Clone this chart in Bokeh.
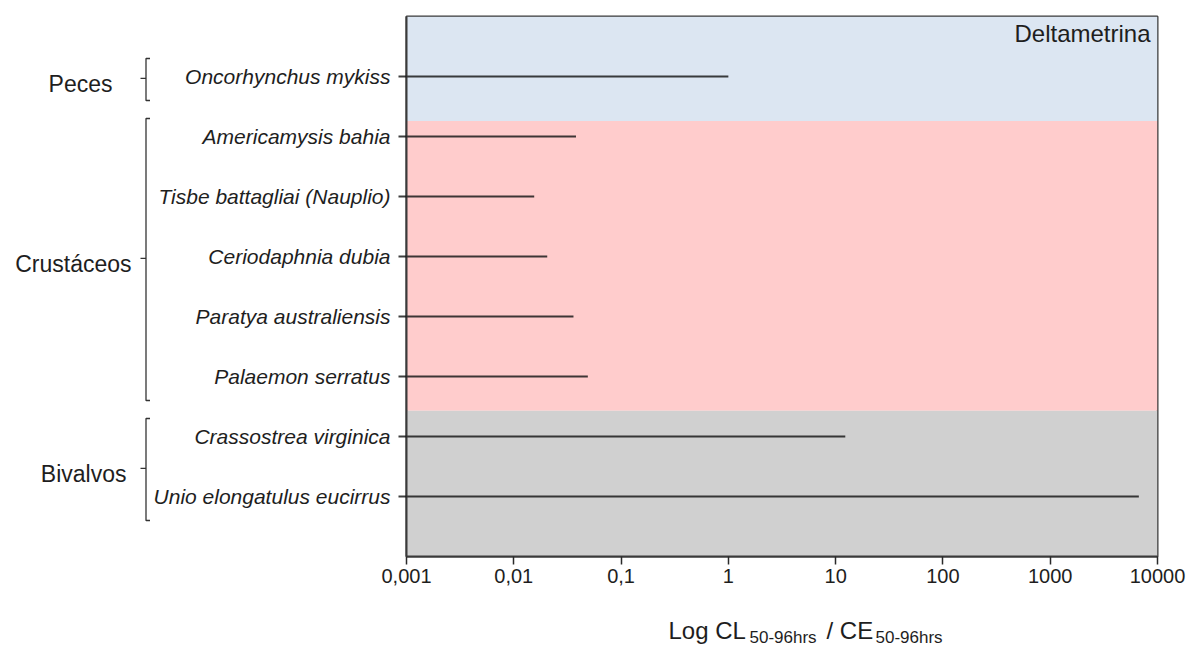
from bokeh.plotting import figure
from bokeh.layouts import row, column
from bokeh.models import Range1d, FixedTicker, Label, ColumnDataSource
from bokeh.core.properties import value
from bokeh.embed import file_html
from bokeh.resources import INLINE

# ---------------- data ----------------
species = ["Oncorhynchus mykiss", "Americamysis bahia", "Tisbe battagliai (Nauplio)",
           "Ceriodaphnia dubia", "Paratya australiensis", "Palaemon serratus",
           "Crassostrea virginica", "Unio elongatulus eucirrus"]
values = [1.0, 0.038, 0.0155, 0.0205, 0.036, 0.049, 12.3, 6700.0]
groups = ["Peces", "Crustáceos", "Bivalvos"]
group_first = [0, 1, 6]
group_last = [0, 5, 7]
x_ticks = [0.001, 0.01, 0.1, 1, 10, 100, 1000, 10000]
x_tick_labels = ["0,001", "0,01", "0,1", "1", "10", "100", "1000", "10000"]
title_text = "Deltametrina"
xlabel_parts = ["Log CL", "50-96hrs", "/ CE", "50-96hrs"]

# ---------------- layout / style ----------------
FONT = "Liberation Sans"
W, H = 1186, 648
TOP_H = 600            # height of the upper row (plot + names)
BOT_H = H - TOP_H      # strip for the x-axis title
LEFT_W = 150
MAIN_W = W - LEFT_W
FRAME_LEFT = 406
TOP, BOTTOM = 16, TOP_H - 556
band_edges = [-1, 0.74, 5.57, 8]
band_colors = ["#dce6f2", "#ffcccc", "#d0d0d0"]
TXT = "#1e1e1e"
LINE = "#2a2a2a"

rows_y = list(range(len(species)))
yr = Range1d(start=8, end=-1)
xmin, xmax = x_ticks[0], x_ticks[-1]

# ---------------- main plot ----------------
p = figure(width=MAIN_W, height=TOP_H, x_axis_type="log",
           x_range=Range1d(xmin, xmax), y_range=yr,
           output_backend="svg", toolbar_location=None,
           min_border_left=FRAME_LEFT - LEFT_W, min_border_right=29,
           min_border_top=TOP, min_border_bottom=BOTTOM)
p.grid.visible = False
p.background_fill_color = "white"
p.border_fill_color = "white"
p.outline_line_color = "#3a3a3a"
p.outline_line_width = 2

p.quad(left=[xmin] * 3, right=[xmax] * 3, top=band_edges[:-1], bottom=band_edges[1:],
       fill_color=band_colors, line_color=None, level="underlay")

src = ColumnDataSource(dict(x0=[xmin] * len(values), x1=values, y=rows_y))
p.segment(x0="x0", y0="y", x1="x1", y1="y", source=src,
          line_color="#141414", line_alpha=0.82, line_width=2)

xa = p.xaxis[0]
xa.ticker = FixedTicker(ticks=x_ticks, minor_ticks=[])
xa.major_label_overrides = {t: l for t, l in zip(x_ticks, x_tick_labels)}
xa.major_tick_out = 8
xa.major_tick_in = 0
xa.minor_tick_out = 0
xa.minor_tick_in = 0
xa.major_tick_line_color = LINE
xa.major_tick_line_width = 1.5
xa.axis_line_color = "#3a3a3a"
xa.axis_line_width = 2
xa.major_label_standoff = 4
xa.major_label_text_font = FONT
xa.major_label_text_font_size = "20px"
xa.major_label_text_color = TXT

ya = p.yaxis[0]
ya.ticker = FixedTicker(ticks=rows_y, minor_ticks=[])
ya.major_label_overrides = {i: s for i, s in zip(rows_y, species)}
ya.major_tick_out = 8
ya.major_tick_in = 0
ya.minor_tick_out = 0
ya.minor_tick_in = 0
ya.major_tick_line_color = "#141414"
ya.major_tick_line_alpha = 0.82
ya.major_tick_line_width = 2
ya.axis_line_color = "#3a3a3a"
ya.axis_line_width = 2
ya.major_label_standoff = 8
ya.major_label_text_font = FONT
ya.major_label_text_font_style = "italic"
ya.major_label_text_font_size = "21px"
ya.major_label_text_color = TXT

p.add_layout(Label(x=xmax, y=-0.717, x_offset=-7, text=title_text,
                   text_align="right", text_baseline="middle",
                   text_font=FONT, text_font_size="24px", text_color=TXT))

# ---------------- left panel (groups and brackets) ----------------
pl = figure(width=LEFT_W, height=TOP_H, x_range=Range1d(0, LEFT_W), y_range=yr,
            x_axis_type=None, y_axis_type=None,
            output_backend="svg", toolbar_location=None,
            min_border_left=0, min_border_right=0,
            min_border_top=TOP, min_border_bottom=BOTTOM)
pl.grid.visible = False
pl.outline_line_color = None
pl.background_fill_color = "white"
pl.border_fill_color = "white"

centers = [(a + b) / 2 for a, b in zip(group_first, group_last)]
group_x = [112, 131, 126]
pl.text(x=group_x, y=[c + 0.12 for c in centers], text=groups, text_align="right",
        text_baseline="middle", text_font=value(FONT), text_font_size="23px",
        text_color=TXT)

bx, serif, tick = 145.5, 150, 140
xs, ys_ = [], []
for a, b, c in zip(group_first, group_last, centers):
    top, bot = a - 0.3, b + 0.4
    xs.append([serif, bx, bx, serif]); ys_.append([top, top, bot, bot])
    xs.append([tick, bx]); ys_.append([c + 0.03, c + 0.03])
pl.multi_line(xs=xs, ys=ys_, line_color="#333333", line_width=1.3)

# ---------------- bottom strip: x-axis title with subscripts ----------------
pb = figure(width=W, height=BOT_H, x_range=Range1d(0, W), y_range=Range1d(H, TOP_H),
            x_axis_type=None, y_axis_type=None,
            output_backend="svg", toolbar_location=None,
            min_border_left=0, min_border_right=0, min_border_top=0, min_border_bottom=0)
pb.grid.visible = False
pb.outline_line_color = None
pb.background_fill_color = "white"
pb.border_fill_color = "white"

part_x = [668, 749, 826, 875]
part_y = [630, 637, 630, 637]
part_size = ["24px", "17px", "24px", "17px"]
for t, px, py, s in zip(xlabel_parts, part_x, part_y, part_size):
    pb.text(x=[px], y=[py], text=[t], text_align="left", text_baseline="alphabetic",
            text_font=value(FONT), text_font_size=s, text_color=TXT)

layout = column(row(pl, p), pb)
open("out.html", "w").write(file_html(layout, INLINE))
